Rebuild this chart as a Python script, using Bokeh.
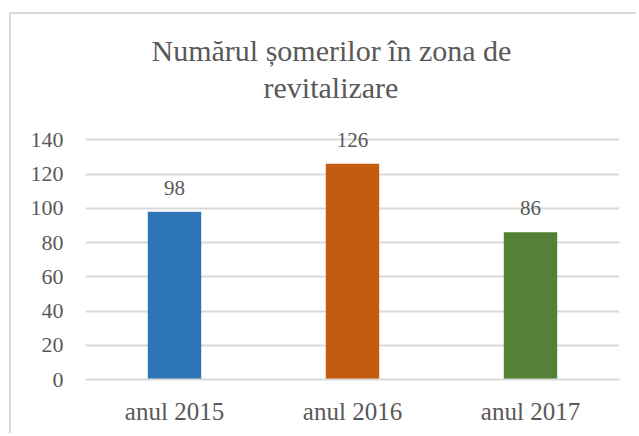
from bokeh.plotting import figure
from bokeh.models import ColumnDataSource, FactorRange, Range1d, FixedTicker, LabelSet, Title
from bokeh.embed import file_html
from bokeh.resources import INLINE

# ---- data ----
categories = ["anul 2015", "anul 2016", "anul 2017"]
values = [98, 126, 86]
colors = ["#2E75B6", "#C55A11", "#538135"]
y_ticks = [0, 20, 40, 60, 80, 100, 120, 140]
title_lines = ["Numărul șomerilor în zona de", "revitalizare"]

FONT = "Liberation Serif"
TXT = "#595959"

W, H = 627, 421
FL, FB, FT = 74, 365, 91   # frame left, frame bottom, frame top (canvas px)

source = ColumnDataSource(data=dict(cat=categories, val=values, col=colors,
                                    lab=[str(v) for v in values]))

p = figure(width=W, height=H, output_backend="svg", toolbar_location=None,
           x_range=FactorRange(*categories, range_padding=0),
           y_range=Range1d(0, 160),
           min_border_left=FL, min_border_right=W - 608,
           min_border_top=FT, min_border_bottom=H - FB)
p.styles = {"border-left": "2px solid #d9d9d9", "border-top": "2px solid #d9d9d9",
            "margin-left": "9px", "margin-top": "12px"}

p.vbar(x="cat", top="val", width=0.3, source=source, fill_color="col", line_color=None)

p.outline_line_color = None
p.background_fill_color = "white"
p.border_fill_color = "white"

p.xgrid.grid_line_color = None
p.ygrid.grid_line_color = "#d9d9d9"
p.ygrid.grid_line_width = 2
p.yaxis.ticker = FixedTicker(ticks=y_ticks)

for ax in (p.xaxis[0], p.yaxis[0]):
    ax.axis_line_color = None
    ax.major_tick_line_color = None
    ax.minor_tick_line_color = None
    ax.major_tick_in = 0
    ax.major_tick_out = 0
    ax.major_label_text_font = FONT
    ax.major_label_text_color = TXT

p.xaxis.axis_line_color = "#d9d9d9"
p.xaxis.axis_line_width = 2
p.yaxis.major_label_text_font_size = "22px"
p.yaxis.major_label_standoff = 22
p.xaxis.major_label_text_font_size = "25px"
p.xaxis.major_label_standoff = 18

labels = LabelSet(x="cat", y="val", text="lab", source=source, y_offset=17,
                  text_align="center", text_baseline="alphabetic",
                  text_font=FONT, text_font_size="21px", text_color=TXT)
p.add_layout(labels)

# two-line title: first line is the outer title, second line is added nearer the plot
p.title.text = title_lines[0]
p.title.align = "left"
p.title.offset = 66
p.title.standoff = 0
p.title.text_font = FONT
p.title.text_font_size = "30px"
p.title.text_font_style = "normal"
p.title.text_color = TXT
p.add_layout(Title(text=title_lines[1], align="left", offset=178, standoff=4,
                   text_font=FONT, text_font_size="30px", text_font_style="normal",
                   text_color=TXT), "above")

open("out.html", "w").write(file_html(p, INLINE))
